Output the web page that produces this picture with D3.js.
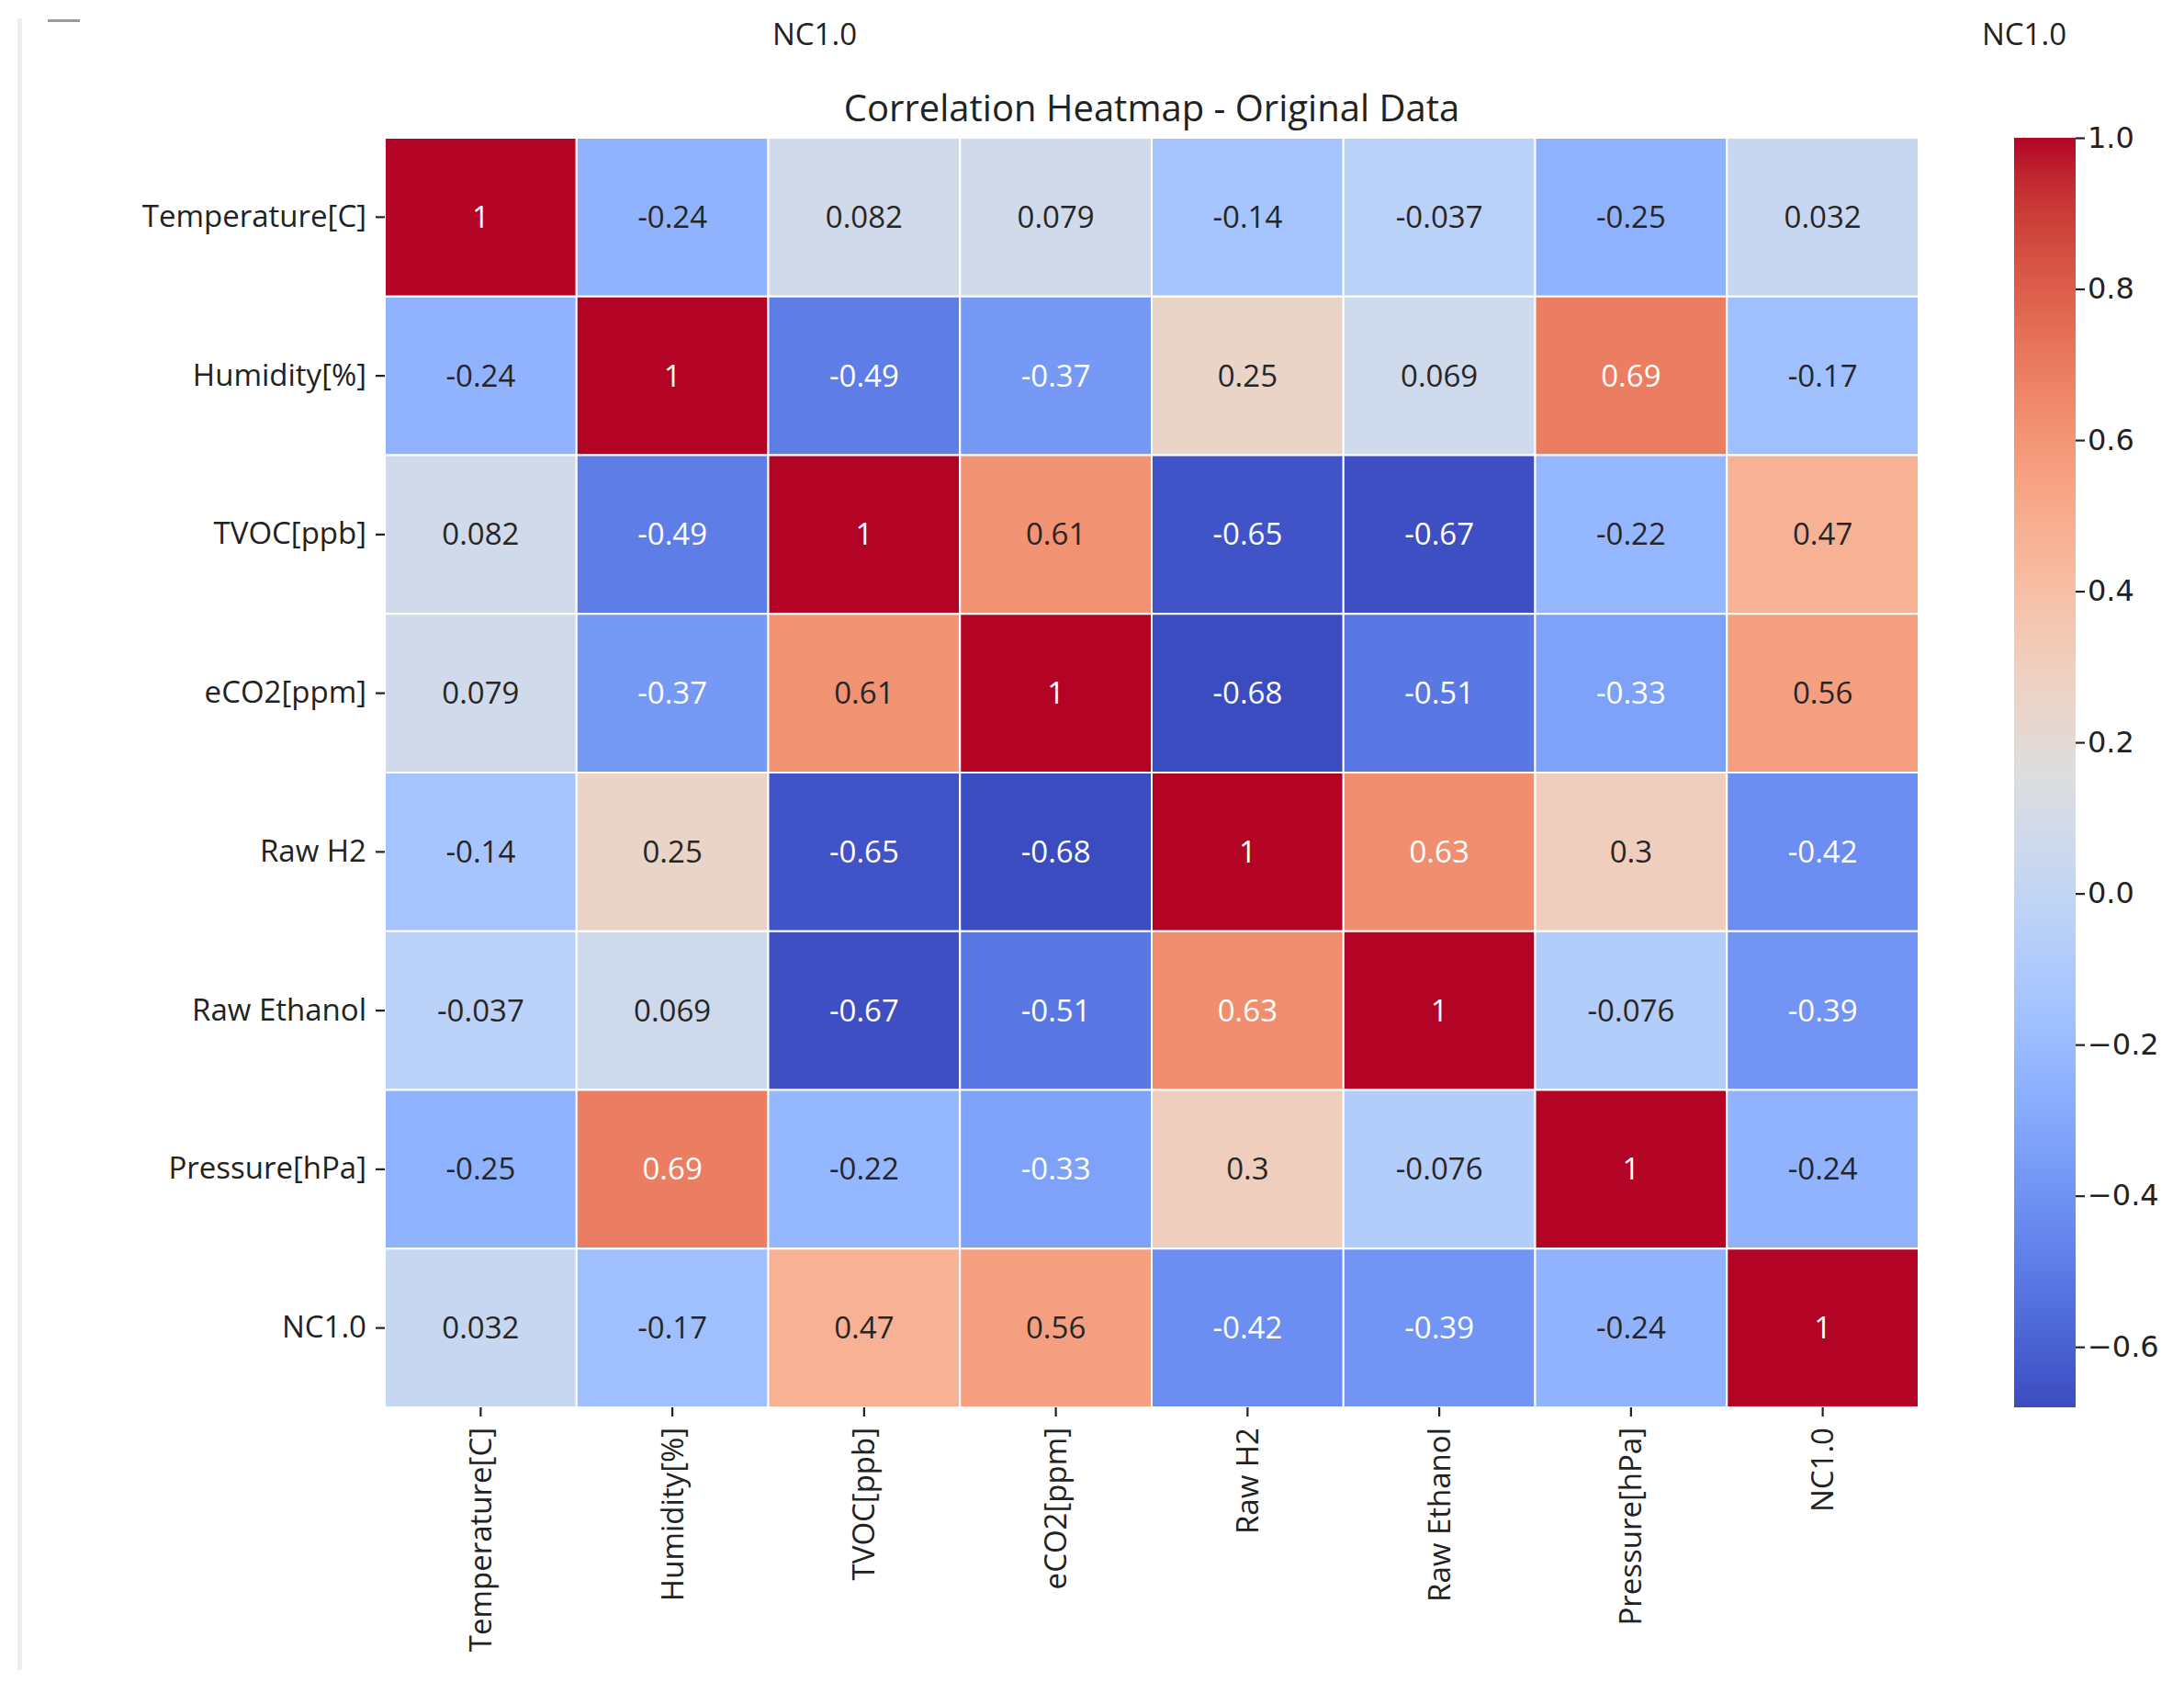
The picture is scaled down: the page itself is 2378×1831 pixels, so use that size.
<!DOCTYPE html>
<html>
<head>
<meta charset="utf-8">
<script src="https://cdn.jsdelivr.net/npm/d3@7"></script>
<style>
  body { margin: 0; background: #fff; }
  svg { display: block; }
</style>
</head>
<body>
<div id="chart"></div>
<script>
// variables in the correlation matrix
var labels = ['Temperature[C]', 'Humidity[%]', 'TVOC[ppb]', 'eCO2[ppm]', 'Raw H2', 'Raw Ethanol', 'Pressure[hPa]', 'NC1.0'];

// one array per row
var rowTemperature = [1, -0.24, 0.082, 0.079, -0.14, -0.037, -0.25, 0.032];
var rowHumidity    = [-0.24, 1, -0.49, -0.37, 0.25, 0.069, 0.69, -0.17];
var rowTVOC        = [0.082, -0.49, 1, 0.61, -0.65, -0.67, -0.22, 0.47];
var rowECO2        = [0.079, -0.37, 0.61, 1, -0.68, -0.51, -0.33, 0.56];
var rowRawH2       = [-0.14, 0.25, -0.65, -0.68, 1, 0.63, 0.3, -0.42];
var rowEthanol     = [-0.037, 0.069, -0.67, -0.51, 0.63, 1, -0.076, -0.39];
var rowPressure    = [-0.25, 0.69, -0.22, -0.33, 0.3, -0.076, 1, -0.24];
var rowNC10        = [0.032, -0.17, 0.47, 0.56, -0.42, -0.39, -0.24, 1];

var matrix = [rowTemperature, rowHumidity, rowTVOC, rowECO2, rowRawH2, rowEthanol, rowPressure, rowNC10];

var colorbarTicks = [1.0, 0.8, 0.6, 0.4, 0.2, 0.0, -0.2, -0.4, -0.6];

// coolwarm (Moreland) stops
var coolwarm = [
  [59,76,192],[68,90,204],[77,104,215],[87,117,225],[98,130,234],[108,142,241],
  [119,154,247],[130,165,251],[141,176,254],[152,185,255],[163,194,255],[174,201,253],
  [184,208,249],[194,213,244],[204,217,238],[213,219,230],[221,221,221],[229,216,209],
  [236,211,197],[241,204,185],[245,196,173],[247,187,160],[247,177,148],[247,166,135],
  [244,154,123],[241,141,111],[236,127,99],[229,112,88],[222,96,77],[213,80,66],
  [203,62,56],[192,40,47],[180,4,38]
].map(c => d3.rgb(c[0], c[1], c[2]).toString());

var W = 2378, H = 1831;
var svg = d3.select('#chart').append('svg').attr('width', W).attr('height', H);

var x0 = 419, x1 = 2089, y0 = 150, y1 = 1532;
var font = "'Open Sans', 'DejaVu Sans', sans-serif";

var cells = [];
matrix.forEach((row, i) => row.forEach((v, j) => cells.push({ r: labels[i], c: labels[j], v: v })));

var vmin = d3.min(cells, d => d.v), vmax = d3.max(cells, d => d.v);
var interp = d3.piecewise(d3.interpolateRgb, coolwarm);
var color = d3.scaleSequential(interp).domain([vmin, vmax]);

var x = d3.scaleBand().domain(labels).range([x0, x1]);
var y = d3.scaleBand().domain(labels).range([y0, y1]);

function lum(c) {
  c = d3.rgb(c);
  var f = v => { v /= 255; return v <= 0.03928 ? v / 12.92 : Math.pow((v + 0.055) / 1.055, 2.4); };
  return 0.2126 * f(c.r) + 0.7152 * f(c.g) + 0.0722 * f(c.b);
}

// page leftovers: faint frame line, small dash and two stray labels on top
svg.append('rect').attr('x', 19).attr('y', 20).attr('width', 5).attr('height', 1798).attr('fill', '#efefef');
svg.append('rect').attr('x', 52).attr('y', 21).attr('width', 35).attr('height', 3).attr('fill', '#9a9a9a');
[887, 2204].forEach(cx => {
  svg.append('text').attr('x', cx).attr('y', 49).attr('text-anchor', 'middle')
    .style('font-family', font).style('font-size', '33px').attr('fill', '#222').text('NC1.0');
});

svg.append('text')
  .attr('x', (x0 + x1) / 2).attr('y', 132)
  .attr('text-anchor', 'middle')
  .style('font-family', font).style('font-size', '40px').attr('fill', '#222')
  .text('Correlation Heatmap - Original Data');

var g = svg.append('g');
g.selectAll('rect.cell').data(cells).join('rect')
  .attr('class', 'cell')
  .attr('x', d => x(d.c)).attr('y', d => y(d.r))
  .attr('width', x.bandwidth()).attr('height', y.bandwidth())
  .attr('fill', d => color(d.v))
  .attr('stroke', '#fff').attr('stroke-width', 2);

g.selectAll('text.val').data(cells).join('text')
  .attr('class', 'val')
  .attr('x', d => x(d.c) + x.bandwidth() / 2)
  .attr('y', d => y(d.r) + y.bandwidth() / 2)
  .attr('dy', '0.35em')
  .attr('text-anchor', 'middle')
  .style('font-family', font).style('font-size', '33px')
  .attr('fill', d => lum(color(d.v)) > 0.408 ? '#262626' : '#fff')
  .text(d => d3.format('.2~g')(d.v).replace('\u2212', '-'));

// axes
var yAxis = svg.append('g').attr('transform', 'translate(' + x0 + ',0)')
  .call(d3.axisLeft(y).tickSize(10).tickPadding(10));
var xAxis = svg.append('g').attr('transform', 'translate(0,' + y1 + ')')
  .call(d3.axisBottom(x).tickSize(10).tickPadding(10));
[yAxis, xAxis].forEach(a => {
  a.select('.domain').remove();
  a.selectAll('line').attr('stroke', '#222').attr('stroke-width', 2.2);
  a.selectAll('text').style('font-family', font).style('font-size', '33px').attr('fill', '#222');
});
xAxis.selectAll('text')
  .attr('transform', 'rotate(-90)')
  .attr('text-anchor', 'end')
  .attr('x', -22).attr('y', 0).attr('dy', '0.35em');

// colorbar
var cbx = 2193, cbw = 67;
var cb = d3.scaleLinear().domain([vmin, vmax]).range([y1, y0]);
var grad = svg.append('defs').append('linearGradient').attr('id', 'cbgrad')
  .attr('x1', 0).attr('y1', 1).attr('x2', 0).attr('y2', 0);
d3.range(0, 1.0001, 1 / 64).forEach(t => {
  grad.append('stop').attr('offset', t).attr('stop-color', interp(t));
});
svg.append('rect').attr('x', cbx).attr('y', y0).attr('width', cbw).attr('height', y1 - y0)
  .attr('fill', 'url(#cbgrad)');
var cAxis = svg.append('g').attr('transform', 'translate(' + (cbx + cbw) + ',0)')
  .call(d3.axisRight(cb).tickValues(colorbarTicks).tickSize(10).tickPadding(3)
    .tickFormat(d => d3.format('.1f')(d).replace('-', '\u2212')));
cAxis.select('.domain').remove();
cAxis.selectAll('line').attr('stroke', '#222').attr('stroke-width', 2.2);
cAxis.selectAll('text').style('font-family', "'DejaVu Sans', sans-serif").style('font-size', '32px').attr('fill', '#222');
</script>
</body>
</html>
